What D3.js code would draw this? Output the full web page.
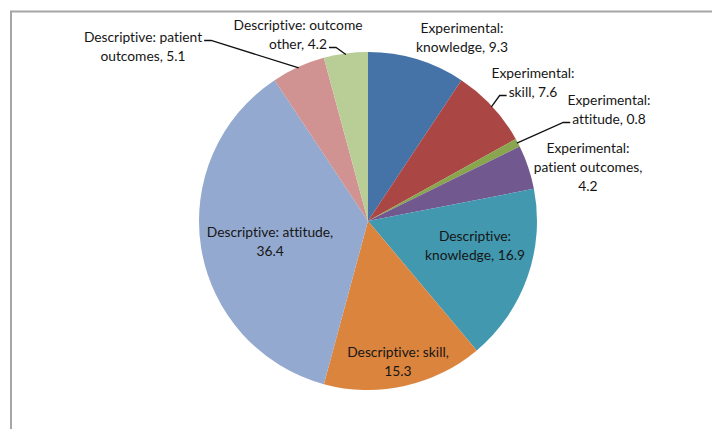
<!DOCTYPE html>
<html>
<head>
	<meta charset="utf-8">
	<title></title>
	<style>
		html, body {
			margin: 0;
			padding: 0;
			background: white;
		}
		svg { display: block; }
		.label {
			font-family: Lato, "Open Sans", sans-serif;
			font-size: 13.8px;
			font-variant-ligatures: none;
			fill: #161616;
		}
	</style>
</head>
<body>

<svg class="diagram" width="712" height="429"></svg>

<script src="https://d3js.org/d3.v7.min.js"></script>
<script>

// slices, clockwise from 12 o'clock
var groups = [
	'Experimental', 'Experimental', 'Experimental', 'Experimental',
	'Descriptive', 'Descriptive', 'Descriptive', 'Descriptive', 'Descriptive'
]
var topics = [
	'knowledge', 'skill', 'attitude', 'patient outcomes',
	'knowledge', 'skill', 'attitude', 'patient outcomes', 'outcome other'
]
var values = [9.3, 7.6, 0.8, 4.2, 16.9, 15.3, 36.4, 5.1, 4.2]

// label text, broken into lines the way the picture has them
var labelLines = [
	['Experimental:', 'knowledge, 9.3'],
	['Experimental:', 'skill, 7.6'],
	['Experimental:', 'attitude, 0.8'],
	['Experimental:', 'patient outcomes,', '4.2'],
	['Descriptive:', 'knowledge, 16.9'],
	['Descriptive: skill,', '15.3'],
	['Descriptive: attitude,', '36.4'],
	['Descriptive: patient', 'outcomes, 5.1'],
	['Descriptive: outcome', 'other, 4.2']
]

var colors = ['#4572a7', '#aa4643', '#89a54e', '#71588f', '#4198af',
	'#db843d', '#93a9cf', '#d19392', '#b9cd96']

var cfg = {
	cx: 368,
	cy: 221,
	radius: 169,
	lineHeight: 19,
	knee: 7,
}

// where each label block sits, relative to the pie centre
var labelOffset = [
	[94, -183], [165, -138], [241, -111], [220, -54],
	[107, 25], [30, 141], [-98, 21], [-225, -174], [-70, -186]
]

// which labels get a leader line: text line it starts from and on which side
var leaders = [
	null,
	{ line: 1, side: 'left' },
	{ line: 1, side: 'left' },
	null, null, null, null,
	{ line: 0, side: 'right' },
	{ line: 1, side: 'right' }
]

var svg = d3.select('.diagram')

// the frame
svg.append('rect')
	.attr('x', 11)
	.attr('y', 11.5)
	.attr('width', 760)
	.attr('height', 480)
	.attr('fill', 'none')
	.attr('stroke', '#a6a6a6')
	.attr('stroke-width', 2)

var pie = d3.pie().sort(null).value(function(d) { return d })
var arcs = pie(values)

var arc = d3.arc().innerRadius(0).outerRadius(cfg.radius)

var chart = svg.append('g')
	.attr('transform', 'translate(' + cfg.cx + ',' + cfg.cy + ')')

chart.selectAll('.slice')
	.data(arcs)
	.enter().append('path')
		.attr('class', 'slice')
		.attr('d', arc)
		.attr('fill', function(d, i) { return colors[i] })

// labels
var labels = chart.selectAll('.label')
	.data(arcs)
	.enter().append('text')
		.attr('class', 'label')
		.attr('text-anchor', 'middle')

labels.each(function(d, i) {
	var lines = labelLines[i]
	var top = labelOffset[i][1] - (lines.length - 1) * cfg.lineHeight / 2
	d3.select(this).selectAll('tspan')
		.data(lines)
		.enter().append('tspan')
			.attr('x', labelOffset[i][0])
			.attr('y', function(t, j) { return top + j * cfg.lineHeight })
			.attr('dy', '0.35em')
			.text(function(t) { return t })
})

// leader lines, from the end of a text line to the slice edge at mid angle
labels.each(function(d, i) {
	var ld = leaders[i]
	if (!ld) return
	var lines = labelLines[i]
	var tspan = d3.select(this).selectAll('tspan').nodes()[ld.line]
	var len = tspan.getComputedTextLength()
	var top = labelOffset[i][1] - (lines.length - 1) * cfg.lineHeight / 2
	var y0 = top + ld.line * cfg.lineHeight + 3
	var x0 = labelOffset[i][0] + (ld.side === 'right' ? len / 2 + 2 : -len / 2 - 2)
	var x1 = x0 + (ld.side === 'right' ? cfg.knee : -cfg.knee)
	var mid = (d.startAngle + d.endAngle) / 2
	var r = cfg.radius - 1
	var x2 = Math.sin(mid) * r
	var y2 = -Math.cos(mid) * r
	chart.append('path')
		.attr('d', d3.line()([[x0, y0], [x1, y0], [x2, y2]]))
		.attr('fill', 'none')
		.attr('stroke', '#111')
		.attr('stroke-width', 1.3)
})

</script>

</body>
</html>
